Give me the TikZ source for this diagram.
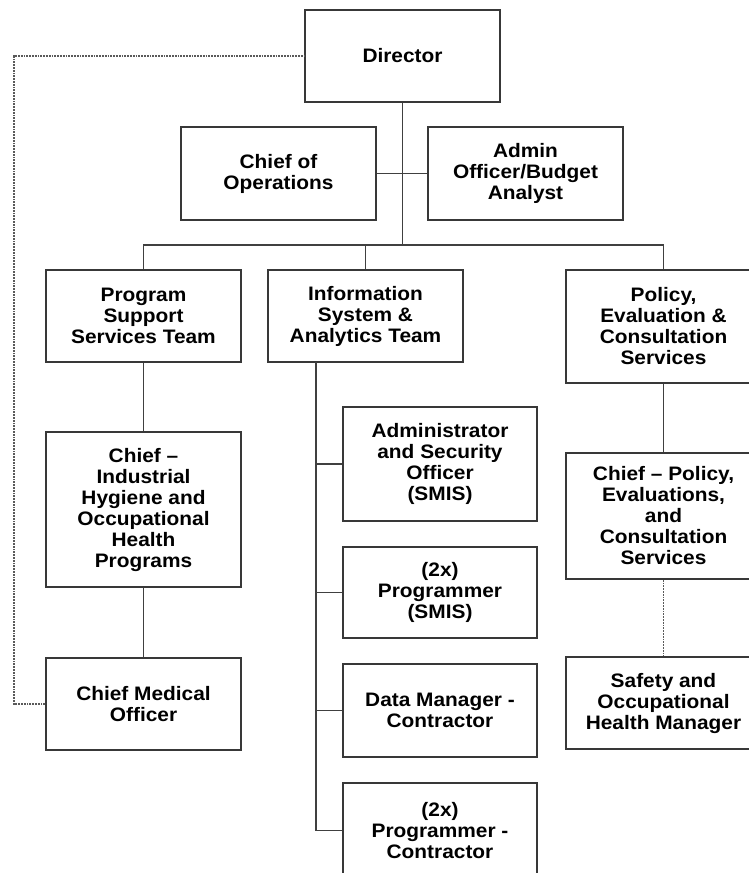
\documentclass[tikz,border=0pt]{standalone}
\usepackage{fontspec}
\setmainfont{Liberation Sans}[FakeStretch=1.07]
\usepackage{xcolor}
\usepackage{tikz}
\usetikzlibrary{positioning,calc}
\definecolor{boxcol}{HTML}{383838}
\definecolor{linecol}{HTML}{404040}
\definecolor{dotcol}{HTML}{5A5A5A}

\begin{document}
\begin{tikzpicture}[x=1pt,y=-1pt,
   font=\bfseries\fontsize{19.5}{21}\selectfont,
   box/.style={draw=boxcol,line width=1.6pt,fill=white,align=center,
              minimum width=195pt,inner sep=2pt},
   link/.style={draw=linecol,line width=1.6pt},
   dotlink/.style={draw=dotcol,line width=1.3pt,dash pattern=on 1.8pt off 1pt},
]
\path[use as bounding box,clip] (0,0) rectangle (749,873);

% top level
\node[box,minimum height=92pt]  (dir) at (402.5,56)  {Director};
\node[box,minimum height=93pt]  (coo) at (278.5,173.5) {Chief of\\Operations};
\node[box,minimum height=93pt]  (adm) at (525.5,173.5) {Admin\\Officer/Budget\\Analyst};

% teams
\node[box,minimum height=92pt]  (pss) at (143.5,316)   {Program\\Support\\Services Team};
\node[box,minimum height=92pt]  (isa) at (365.5,316)   {Information\\System \&\\Analytics Team};
\node[box,minimum height=113pt] (pec) at (663.5,326.5) {Policy,\\Evaluation \&\\Consultation\\Services};

% program support branch
\node[box,minimum height=155pt] (cih) at (143.5,509.5) {Chief --\\Industrial\\Hygiene and\\Occupational\\Health\\Programs};
\node[box,minimum height=92pt]  (cmo) at (143.5,704)   {Chief Medical\\Officer};

% information system branch
\node[box,minimum width=194pt,minimum height=114pt] (aso) at (440,464)   {Administrator\\and Security\\Officer\\(SMIS)};
\node[box,minimum width=194pt,minimum height=91pt]  (prs) at (440,592.5) {(2x)\\Programmer\\(SMIS)};
\node[box,minimum width=194pt,minimum height=93pt]  (dmc) at (440,710.5) {Data Manager -\\Contractor};
\node[box,minimum width=194pt,minimum height=95pt]  (prc) at (440,830.5) {(2x)\\Programmer -\\Contractor};

% policy branch
\node[box,minimum height=126pt] (cpe) at (663.5,516) {Chief -- Policy,\\Evaluations,\\and\\Consultation\\Services};
\node[box,minimum height=92pt]  (soh) at (663.5,703) {Safety and\\Occupational\\Health Manager};

% helper points
\coordinate (bus) at (402.5,245);
\coordinate (ist) at (316,362);
\coordinate (lp)  at (14,56);

% wires
\draw[link] (dir.south) -- (bus);
\draw[link] (coo.east) -- (adm.west);
\draw[link] (pss.north) |- (bus) -| (pec.north);
\draw[link] (isa.north) -- (isa.north |- bus);
\draw[link] (pss) -- (cih);
\draw[link] (cih) -- (cmo);
\draw[link] (pec) -- (cpe);
\draw[link] (ist) |- (aso.west);
\draw[link] (ist) |- (prs.west);
\draw[link] (ist) |- (dmc.west);
\draw[link] (ist) |- (prc.west);
\draw[dotlink] (cpe) -- (soh);
\draw[dotlink] (cmo.west) -| (lp) -- (dir.west);
\end{tikzpicture}
\end{document}
